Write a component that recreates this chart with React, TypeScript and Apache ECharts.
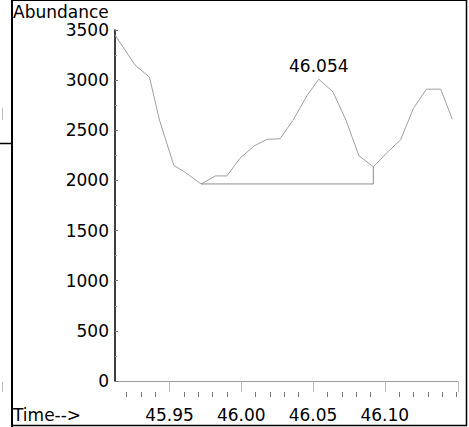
import React, { useEffect, useRef } from "react";
import * as echarts from "echarts";

const times = [45.912, 45.926, 45.936, 45.943, 45.953, 45.961, 45.972, 45.982, 45.990, 45.999, 46.009, 46.018, 46.027, 46.036, 46.046, 46.054, 46.064, 46.073, 46.082, 46.092, 46.101, 46.111, 46.120, 46.129, 46.139, 46.147];
const abundance = [3450, 3150, 3030, 2600, 2150, 2080, 1965, 2045, 2045, 2220, 2345, 2410, 2415, 2600, 2850, 3010, 2880, 2600, 2245, 2135, 2270, 2405, 2720, 2910, 2910, 2610];

const baselineTimes = [45.972, 46.092, 46.092];
const baselineValues = [1965, 1965, 2135];

const peakTime = 46.054;
const peakValue = 3010;
const peakLabel = "46.054";

const xLabelValues = [45.95, 46.0, 46.05, 46.1];
const xMajorTickValues = [45.95, 46.0, 46.05, 46.1, 46.151];
const xMinorTickValues = [45.92, 45.93, 45.94, 45.96, 45.97, 45.98, 45.99, 46.01, 46.02, 46.03, 46.04, 46.06, 46.07, 46.08, 46.09, 46.11, 46.12, 46.13, 46.14, 46.15];
const xMin = 45.912;
const xMax = 46.151;
const yMin = 0;
const yMax = 3500;
const yInterval = 500;

const FONT = "DejaVu Sans";

export default function App() {
  const ref = useRef<HTMLDivElement>(null);
  useEffect(() => {
    document.body.style.margin = "0";
    const chart = echarts.init(ref.current!, undefined, { renderer: "svg" });
    const line = (x1: number, y1: number, x2: number, y2: number, color: string, w: number) => ({
      type: "line",
      shape: { x1, y1, x2, y2 },
      style: { stroke: color, lineWidth: w },
      silent: true,
    });
    chart.setOption({
      animation: false,
      backgroundColor: "#ffffff",
      grid: { left: 115, right: 11, top: 30, bottom: 46 },
      xAxis: [
        {
          type: "value",
          min: xMin,
          max: xMax,
          position: "bottom",
          offset: 11,
          axisLine: { show: true, lineStyle: { color: "#999999", width: 1 } },
          axisTick: {
            show: true,
            length: 11,
            customValues: xMajorTickValues,
            lineStyle: { color: "#bbbbbb", width: 1 },
          },
          axisLabel: {
            show: true,
            customValues: xLabelValues,
            formatter: (v: number) => v.toFixed(2),
            color: "#000000",
            fontFamily: FONT,
            fontSize: 17,
            margin: 14,
          },
          splitLine: { show: false },
        },
        {
          type: "value",
          min: xMin,
          max: xMax,
          position: "bottom",
          offset: 11,
          axisLine: { show: false },
          axisTick: {
            show: true,
            length: 5,
            customValues: xMinorTickValues,
            lineStyle: { color: "#777777", width: 1 },
          },
          axisLabel: { show: false },
          splitLine: { show: false },
        },
      ],
      yAxis: {
        type: "value",
        min: yMin,
        max: yMax,
        interval: yInterval,
        axisLine: { show: true, lineStyle: { color: "#000000", width: 1.5 } },
        axisTick: { show: true, inside: true, length: 3, lineStyle: { color: "#777777" } },
        minorTick: { show: true, splitNumber: 2, length: 2, lineStyle: { color: "#999999" } },
        axisLabel: {
          color: "#000000",
          fontFamily: FONT,
          fontSize: 17,
          margin: 6,
          formatter: (v: number) => String(v),
        },
        splitLine: { show: false },
      },
      series: [
        {
          type: "line",
          xAxisIndex: 0,
          data: times.map((t, i) => [t, abundance[i]]),
          symbol: "none",
          lineStyle: { color: "#a0a0a0", width: 1 },
        },
        {
          type: "line",
          xAxisIndex: 0,
          data: baselineTimes.map((t, i) => [t, baselineValues[i]]),
          symbol: "none",
          lineStyle: { color: "#8c8c8c", width: 1 },
        },
        {
          type: "scatter",
          xAxisIndex: 0,
          data: [[peakTime, peakValue]],
          symbolSize: 0,
          itemStyle: { opacity: 1 },
          label: {
            show: true,
            position: "top",
            distance: 5,
            formatter: peakLabel,
            color: "#000000",
            opacity: 1,
            fontFamily: FONT,
            fontSize: 17,
          },
        },
      ],
      graphic: [
        line(12, 0, 12, 427, "#000000", 2),
        line(12, 0.5, 467, 0.5, "#000000", 1),
        line(466.5, 0, 466.5, 426, "#000000", 1.5),
        line(12, 425.5, 467, 425.5, "#000000", 1.5),
        line(0, 143.5, 12, 143.5, "#000000", 1.5),
        line(2.5, 108, 2.5, 120, "#bbbbbb", 1),
        line(2.5, 382, 2.5, 392, "#bbbbbb", 1),
        {
          type: "text",
          x: 13,
          y: 12,
          style: { text: "Abundance", fill: "#000000", font: `17px "${FONT}"`, verticalAlign: "middle", align: "left" },
        },
        {
          type: "text",
          x: 13,
          y: 415,
          style: { text: "Time-->", fill: "#000000", font: `17px "${FONT}"`, verticalAlign: "middle", align: "left" },
        },
      ],
    });
    return () => chart.dispose();
  }, []);
  return <div ref={ref} style={{ position: "fixed", left: 0, top: 0, width: 469, height: 427 }} />;
}
